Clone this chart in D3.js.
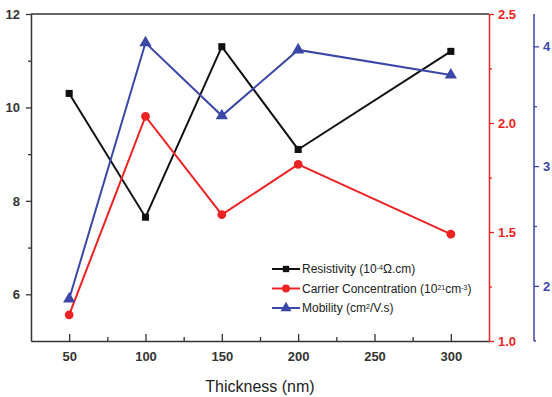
<!DOCTYPE html>
<html><head><meta charset="utf-8">
<script src="https://cdn.jsdelivr.net/npm/d3@7"></script>
<style>
html,body{margin:0;padding:0;background:#fff;overflow:hidden}
text{font-family:"Liberation Sans",Arial,sans-serif}
</style></head>
<body><svg id="c" width="552" height="397"></svg>
<script>
const thickness = [50, 100, 150, 200, 300];
const resistivity = [10.3, 7.65, 11.3, 9.1, 11.2];
const carrier = [1.12, 2.03, 1.58, 1.81, 1.49];
const mobility = [1.89, 4.03, 3.42, 3.97, 3.76];
const xTicks = [50, 100, 150, 200, 250, 300];
const leftTicks = [6, 8, 10, 12];
const redTicks = [1.0, 1.5, 2.0, 2.5];
const blueTicks = [2, 3, 4];
const legendLabels = [
  [["Resistivity (10",0],["-4",1],["Ω.cm)",0]],
  [["Carrier Concentration (10",0],["21",1],["cm",0],["-3",1],[")",0]],
  [["Mobility (cm",0],["2",1],["/V.s)",0]]
];

const L=31, R=489, T=14, B=341;
const black="#111", red="#ee2222", blue="#3a47a6";
const svg=d3.select("#c");
const x=d3.scaleLinear().domain([25,325]).range([L,R]);
const yL=d3.scaleLinear().domain([5,12]).range([B,T]);
const yR=d3.scaleLinear().domain([1.0,2.5]).range([B,T]);
const yB=d3.scaleLinear().domain([1.54,4.27]).range([B,T]);

svg.append("line").attr("x1",L).attr("x2",R).attr("y1",T).attr("y2",T).attr("stroke","#333").attr("stroke-width",1.5);

function styleAxis(g,color,fs){
  g.select(".domain").attr("stroke",color).attr("stroke-width",1.5);
  g.selectAll(".tick line").attr("stroke",color).attr("stroke-width",1.3);
  g.selectAll(".tick text").attr("fill",color).attr("font-size",fs).attr("font-weight","bold");
}
function minor(g,color){g.select(".domain").remove();g.selectAll("line").attr("stroke",color).attr("stroke-width",1.3);}

const gx=svg.append("g").attr("transform",`translate(0,${B})`)
  .call(d3.axisBottom(x).tickValues(xTicks).tickSize(-7).tickPadding(11).tickFormat(d3.format("d")).tickSizeOuter(0));
styleAxis(gx,"#333",13);
gx.selectAll(".tick text").attr("dy","0.71em");
svg.append("g").attr("transform",`translate(0,${B})`)
  .call(d3.axisBottom(x).tickValues([75,125,175,225,275]).tickSize(-4).tickFormat("").tickSizeOuter(0))
  .call(g=>minor(g,"#333"));

const gl=svg.append("g").attr("transform",`translate(${L},0)`)
  .call(d3.axisLeft(yL).tickValues(leftTicks).tickSize(5).tickPadding(6).tickFormat(d3.format("d")).tickSizeOuter(0));
styleAxis(gl,"#333",13);
svg.append("g").attr("transform",`translate(${L},0)`)
  .call(d3.axisLeft(yL).tickValues([7,9,11]).tickSize(3).tickFormat("").tickSizeOuter(0))
  .call(g=>minor(g,"#333"));

const gr=svg.append("g").attr("transform",`translate(${R},0)`)
  .call(d3.axisRight(yR).tickValues(redTicks).tickSize(5).tickPadding(4).tickFormat(d3.format(".1f")).tickSizeOuter(0));
styleAxis(gr,red,13);
svg.append("g").attr("transform",`translate(${R},0)`)
  .call(d3.axisRight(yR).tickValues([1.25,1.75,2.25]).tickSize(3).tickFormat("").tickSizeOuter(0))
  .call(g=>minor(g,red));

const BX=534;
const gb=svg.append("g").attr("transform",`translate(${BX},0)`)
  .call(d3.axisRight(yB).tickValues(blueTicks).tickSize(5).tickPadding(4).tickFormat(d3.format("d")).tickSizeOuter(0));
styleAxis(gb,blue,13);
gb.select(".domain").attr("d",`M0,${T}V${B}`);
svg.append("g").attr("transform",`translate(${BX},0)`)
  .call(d3.axisRight(yB).tickValues([2.5,3.5]).tickSize(3).tickFormat("").tickSizeOuter(0))
  .call(g=>minor(g,blue));
svg.append("line").attr("x1",BX).attr("x2",BX+2).attr("y1",B).attr("y2",B).attr("stroke",blue).attr("stroke-width",1.3);

svg.append("text").attr("x",260).attr("y",392).attr("text-anchor","middle").attr("font-size",16).attr("fill","#222").text("Thickness (nm)");

const series=[
  {vals:resistivity,y:yL,color:black,shape:d3.symbolSquare,size:50},
  {vals:carrier,y:yR,color:red,shape:d3.symbolCircle,size:60},
  {vals:mobility,y:yB,color:blue,shape:d3.symbolTriangle,size:65}
];
const line=(s)=>d3.line().x((d,i)=>x(thickness[i])).y(d=>s.y(d));
series.forEach(s=>{
  svg.append("path").datum(s.vals).attr("d",line(s)).attr("fill","none").attr("stroke",s.color).attr("stroke-width",2);
});
series.forEach(s=>{
  svg.selectAll(null).data(s.vals).enter().append("path")
    .attr("d",d3.symbol().type(s.shape).size(s.size))
    .attr("transform",(d,i)=>`translate(${x(thickness[i])},${s.y(d)})`)
    .attr("fill",s.color);
});

const lg=svg.append("g");
series.forEach((s,i)=>{
  const yy=269+i*19.5;
  lg.append("line").attr("x1",272).attr("x2",300).attr("y1",yy).attr("y2",yy).attr("stroke",s.color).attr("stroke-width",2);
  lg.append("path").attr("d",d3.symbol().type(s.shape).size(s.size*0.8)).attr("transform",`translate(286,${yy})`).attr("fill",s.color);
  const t=lg.append("text").attr("x",302).attr("y",yy+4).attr("font-size",12).attr("fill","#222");
  legendLabels[i].forEach(([str,sup])=>{
    const ts=t.append("tspan").text(str);
    if(sup) ts.attr("font-size",7).attr("baseline-shift","super");
  });
});
</script></body></html>
